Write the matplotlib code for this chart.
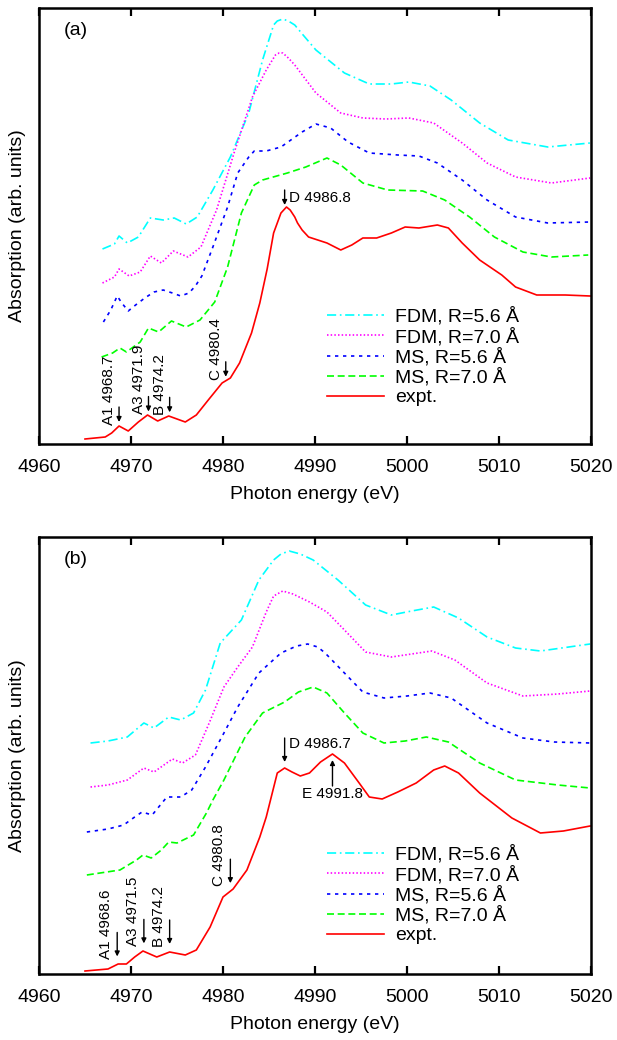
import numpy as np
import matplotlib
matplotlib.use("Agg")
import matplotlib.pyplot as plt

plt.rcParams['font.family'] = ['Liberation Sans', 'DejaVu Sans']

# ---------------- data: panel (a) ----------------
e_cyan_a = [4966.9, 4968.2, 4968.7, 4969.6, 4970.8, 4972.1, 4973.5, 4974.7, 4976.0, 4977.2, 4978.9,
            4980.8, 4982.8, 4984.3, 4985.5, 4985.9, 4986.5, 4987.1, 4987.8, 4988.8, 4990.1, 4993.2,
            4995.9, 4998.3, 5000.2, 5002.5, 5004.8, 5007.9, 5011.0, 5015.3, 5019.9]
y_cyan_a = [1.95, 2.00, 2.08, 2.01, 2.07, 2.26, 2.24, 2.26, 2.20, 2.27, 2.54,
            2.87, 3.31, 3.84, 4.19, 4.23, 4.25, 4.23, 4.19, 4.08, 3.94, 3.71,
            3.60, 3.60, 3.62, 3.58, 3.44, 3.21, 3.04, 2.97, 3.01]

e_mag_a = [4966.9, 4968.2, 4968.7, 4969.8, 4971.0, 4972.1, 4973.3, 4974.6, 4976.2, 4977.6, 4979.3,
           4981.2, 4983.2, 4984.7, 4985.7, 4986.1, 4986.5, 4987.1, 4987.8, 4990.1, 4992.8, 4995.2,
           4997.7, 5000.2, 5002.9, 5006.0, 5008.7, 5011.8, 5015.7, 5019.9]
y_mag_a = [1.61, 1.67, 1.75, 1.68, 1.72, 1.88, 1.81, 1.93, 1.87, 1.97, 2.34,
           2.91, 3.47, 3.74, 3.89, 3.91, 3.91, 3.86, 3.79, 3.51, 3.31, 3.26,
           3.25, 3.26, 3.21, 3.01, 2.81, 2.67, 2.61, 2.66]

e_blue_a = [4967.0, 4967.8, 4968.5, 4969.0, 4969.7, 4970.5, 4971.5, 4972.5, 4973.5, 4974.5, 4975.4,
            4976.3, 4977.0, 4977.7, 4978.9, 4980.5, 4981.6, 4982.8, 4983.4, 4984.7, 4986.3, 4988.6,
            4990.1, 4991.7, 4993.6, 4995.9, 4999.0, 5001.3, 5003.3, 5006.0, 5008.7, 5011.8, 5015.3,
            5019.9]
y_blue_a = [1.22, 1.34, 1.48, 1.41, 1.33, 1.39, 1.46, 1.52, 1.54, 1.51, 1.48,
            1.51, 1.58, 1.68, 1.97, 2.37, 2.71, 2.87, 2.93, 2.93, 2.97, 3.12,
            3.20, 3.16, 3.02, 2.91, 2.89, 2.88, 2.81, 2.64, 2.44, 2.27, 2.21,
            2.22]

e_green_a = [4966.8, 4968.0, 4968.8, 4969.5, 4971.0, 4971.9, 4973.0, 4974.4, 4976.0, 4977.5, 4979.1,
             4980.5, 4982.0, 4983.4, 4984.3, 4987.0, 4989.0, 4991.3, 4992.8, 4995.2, 4997.9, 5001.7,
             5004.1, 5006.8, 5009.5, 5012.6, 5015.7, 5019.7]
y_green_a = [0.87, 0.91, 0.96, 0.92, 1.02, 1.16, 1.12, 1.23, 1.17, 1.24, 1.42,
             1.77, 2.31, 2.59, 2.64, 2.71, 2.77, 2.86, 2.79, 2.61, 2.54, 2.53,
             2.44, 2.27, 2.07, 1.92, 1.87, 1.89]

e_red_a = [4965.0, 4967.2, 4967.9, 4968.7, 4969.7, 4970.8, 4971.8, 4972.9, 4974.1, 4975.9, 4977.1,
           4978.4, 4979.9, 4980.8, 4981.8, 4983.1, 4984.0, 4984.8, 4985.5, 4986.3, 4986.9, 4987.3,
           4987.8, 4988.1, 4988.6, 4989.3, 4991.3, 4992.8, 4994.0, 4995.2, 4996.7, 4998.3, 4999.8,
           5001.3, 5003.3, 5004.5, 5006.0, 5007.9, 5010.3, 5011.8, 5014.1, 5017.2, 5019.9]
y_red_a = [0.05, 0.07, 0.11, 0.18, 0.13, 0.22, 0.29, 0.23, 0.28, 0.22, 0.29,
           0.44, 0.61, 0.66, 0.81, 1.11, 1.41, 1.75, 2.11, 2.31, 2.37, 2.34,
           2.27, 2.21, 2.14, 2.07, 2.01, 1.94, 1.99, 2.06, 2.06, 2.11, 2.17,
           2.16, 2.19, 2.16, 2.01, 1.84, 1.69, 1.57, 1.49, 1.49, 1.48]

# ---------------- data: panel (b) ----------------
e_cyan_b = [4965.6, 4967.5, 4969.6, 4971.4, 4972.5, 4974.1, 4975.4, 4976.8, 4978.1, 4979.7, 4980.8,
            4982.0, 4983.9, 4985.5, 4986.3, 4987.2, 4988.4, 4989.8, 4992.5, 4995.5, 4998.3, 5000.5,
            5002.9, 5005.6, 5008.7, 5011.8, 5014.5, 5019.9]
y_cyan_b = [2.31, 2.33, 2.37, 2.51, 2.46, 2.57, 2.54, 2.61, 2.84, 3.31, 3.42,
            3.54, 3.94, 4.14, 4.20, 4.23, 4.20, 4.14, 3.94, 3.69, 3.59, 3.63,
            3.67, 3.56, 3.37, 3.26, 3.23, 3.30]

e_mag_b = [4965.6, 4967.5, 4969.6, 4971.4, 4972.5, 4974.5, 4975.6, 4977.0, 4978.5, 4980.1, 4981.6,
           4983.2, 4984.7, 4985.5, 4986.5, 4987.6, 4989.4, 4991.3, 4993.2, 4995.5, 4998.3, 5002.7,
           5005.2, 5008.7, 5012.6, 5016.4, 5019.9]
y_mag_b = [1.87, 1.89, 1.94, 2.06, 2.02, 2.15, 2.11, 2.19, 2.51, 2.87, 3.07,
           3.27, 3.62, 3.78, 3.83, 3.80, 3.72, 3.62, 3.44, 3.22, 3.17, 3.23,
           3.14, 2.91, 2.78, 2.80, 2.83]

e_blue_b = [4965.2, 4967.5, 4969.2, 4970.4, 4971.2, 4972.3, 4973.9, 4975.4, 4976.6, 4978.1, 4980.1,
            4981.6, 4983.9, 4986.3, 4988.0, 4989.2, 4990.3, 4991.1, 4993.2, 4995.2, 4997.5, 5000.0,
            5002.5, 5004.8, 5008.7, 5012.6, 5016.0, 5019.9]
y_blue_b = [1.42, 1.45, 1.49, 1.57, 1.62, 1.59, 1.77, 1.77, 1.84, 2.07, 2.41,
            2.67, 3.01, 3.21, 3.28, 3.30, 3.27, 3.21, 3.01, 2.82, 2.76, 2.78,
            2.81, 2.76, 2.51, 2.36, 2.32, 2.31]

e_green_b = [4965.2, 4968.8, 4970.6, 4971.3, 4972.2, 4973.3, 4974.1, 4975.0, 4976.8, 4978.2, 4978.9,
             4980.1, 4982.4, 4984.3, 4986.7, 4988.2, 4989.8, 4991.3, 4993.2, 4995.2, 4997.5, 4999.8,
             5002.1, 5004.5, 5007.9, 5011.8, 5016.4, 5019.9]
y_green_b = [0.99, 1.04, 1.14, 1.19, 1.16, 1.24, 1.32, 1.31, 1.39, 1.61, 1.74,
             1.94, 2.37, 2.61, 2.72, 2.82, 2.87, 2.81, 2.61, 2.41, 2.31, 2.33,
             2.37, 2.32, 2.11, 1.94, 1.89, 1.86]

e_red_b = [4965.0, 4967.5, 4968.6, 4969.5, 4970.4, 4971.3, 4972.8, 4974.2, 4975.9, 4977.1, 4978.6,
           4980.0, 4981.1, 4982.6, 4984.0, 4984.7, 4985.9, 4986.7, 4987.5, 4988.4, 4989.4, 4990.6,
           4991.9, 4993.2, 4994.8, 4995.9, 4997.3, 4999.0, 5001.0, 5002.9, 5004.1, 5005.6, 5007.9,
           5011.4, 5014.5, 5017.0, 5019.9]
y_red_b = [0.03, 0.05, 0.10, 0.10, 0.17, 0.23, 0.17, 0.22, 0.19, 0.24, 0.47,
           0.77, 0.85, 1.04, 1.37, 1.57, 2.01, 2.06, 2.02, 1.98, 2.01, 2.12,
           2.20, 2.11, 1.91, 1.77, 1.75, 1.82, 1.91, 2.04, 2.08, 2.01, 1.81,
           1.56, 1.41, 1.43, 1.48]

series_labels = ['FDM, R=5.6 Å', 'FDM, R=7.0 Å', 'MS, R=5.6 Å', 'MS, R=7.0 Å', 'expt.']
xticks = [4960, 4970, 4980, 4990, 5000, 5010, 5020]

# annotations: (label, energy)
peaks_a = [('A1 4968.7', 4968.7), ('A3 4971.9', 4971.9), ('B 4974.2', 4974.2), ('C 4980.4', 4980.3)]
peak_d_a = ('D 4986.8', 4986.7)
peaks_b = [('A1 4968.6', 4968.5), ('A3 4971.5', 4971.4), ('B 4974.2', 4974.2), ('C 4980.8', 4980.8)]
peak_d_b = ('D 4986.7', 4986.7)
peak_e_b = ('E 4991.8', 4991.9)

# ---------------- styles ----------------
colors = ['#00ffff', '#ff00ff', '#0000ff', '#00ff00', '#ff0000']
styles = [(0, (5.5, 2.2, 1.0, 2.2)), (0, (0.9, 1.3)), (0, (2.0, 2.8)), (0, (4.2, 2.2)), '-']

W, H = 617, 1040
fig = plt.figure(figsize=(W / 100, H / 100), dpi=100)
left, width = 39 / W, 552 / W
ax_a = fig.add_axes([left, 1 - 444 / H, width, 436 / H])
ax_b = fig.add_axes([left, 1 - 974 / H, width, 437 / H])

arrow_kw = dict(arrowstyle='-|>', color='k', lw=1.0, mutation_scale=7, shrinkA=0, shrinkB=0)


def setup(ax, tag, ytop):
    ax.set_xlim(4960, 5020)
    ax.set_ylim(0, ytop)
    ax.set_xticks(xticks)
    ax.set_yticks([])
    ax.tick_params(axis='x', direction='in', top=True, length=6, width=1.6,
                   labelsize=14, pad=11)
    for s in ax.spines.values():
        s.set_linewidth(1.8)
    ax.set_xlabel('Photon energy (eV)', fontsize=14, labelpad=7)
    ax.set_ylabel('Absorption (arb. units)', fontsize=14)
    ax.yaxis.set_label_coords(-0.024, 0.5)
    ax.text(0.045, 0.967, tag, transform=ax.transAxes, fontsize=14, ha='left', va='top')


def draw(ax, data):
    for (e, y), c, ls, lab in zip(data, colors, styles, series_labels):
        ax.plot(e, y, color=c, linestyle=ls, lw=1.2, label=lab,
                solid_joinstyle='round', dash_joinstyle='round')


draw(ax_a, [(e_cyan_a, y_cyan_a), (e_mag_a, y_mag_a), (e_blue_a, y_blue_a),
            (e_green_a, y_green_a), (e_red_a, y_red_a)])
draw(ax_b, [(e_cyan_b, y_cyan_b), (e_mag_b, y_mag_b), (e_blue_b, y_blue_b),
            (e_green_b, y_green_b), (e_red_b, y_red_b)])
setup(ax_a, '(a)', 4.36)
setup(ax_b, '(b)', 4.37)


def rot_peaks(ax, peaks, e_red, y_red, gap, length, dx):
    for lab, e in peaks:
        tip = np.interp(e, e_red, y_red) + gap
        ax.annotate('', xy=(e, tip), xytext=(e, tip + length), arrowprops=arrow_kw)
        ax.annotate(lab, xy=(e, tip), xytext=(-dx, -2), textcoords='offset points',
                    rotation=90, ha='center', va='bottom', fontsize=11)


rot_peaks(ax_a, peaks_a, e_red_a, y_red_a, 0.04, 0.15, 7)
rot_peaks(ax_b, peaks_b, e_red_b, y_red_b, 0.08, 0.24, 8)

# D in (a)
lab, e = peak_d_a
tip = np.interp(e, e_red_a, y_red_a) + 0.04
ax_a.annotate('', xy=(e, tip), xytext=(e, tip + 0.15), arrowprops=arrow_kw)
ax_a.annotate(lab, xy=(e, tip + 0.07), xytext=(3, 0), textcoords='offset points',
              ha='left', va='center', fontsize=11)

# D in (b)
lab, e = peak_d_b
tip = np.interp(e, e_red_b, y_red_b) + 0.06
ax_b.annotate('', xy=(e, tip), xytext=(e, tip + 0.24), arrowprops=arrow_kw)
ax_b.annotate(lab, xy=(e, tip + 0.18), xytext=(3, 0), textcoords='offset points',
              ha='left', va='center', fontsize=11)

# E in (b): arrow from below
lab, e = peak_e_b
tip = np.interp(e, e_red_b, y_red_b) - 0.06
ax_b.annotate('', xy=(e, tip), xytext=(e, tip - 0.26), arrowprops=arrow_kw)
ax_b.annotate(lab, xy=(e, tip - 0.26), xytext=(0, -1), textcoords='offset points',
              ha='center', va='top', fontsize=11)

for ax, anchor in ((ax_a, (0.522, 0.314)), (ax_b, (0.522, 0.295))):
    ax.legend(loc='upper left', bbox_to_anchor=anchor, frameon=False, fontsize=14,
              handlelength=2.9, handletextpad=0.6, labelspacing=0.1, borderpad=0,
              borderaxespad=0)

fig.savefig('out.png', dpi=100)
